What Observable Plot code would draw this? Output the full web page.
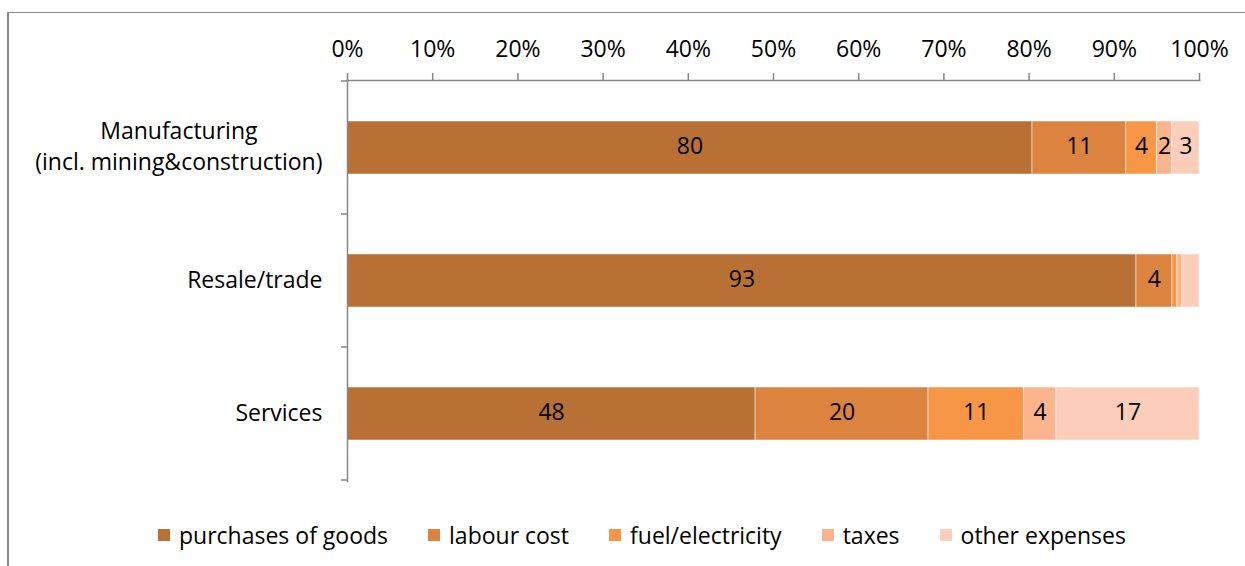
<!DOCTYPE html>
<html>
<head>
<meta charset="utf-8">
<script src="https://cdn.jsdelivr.net/npm/d3@7"></script>
<script src="https://cdn.jsdelivr.net/npm/@observablehq/plot@0.6"></script>
<style>
  html, body { margin: 0; padding: 0; background: #fff; width: 1245px; height: 566px; overflow: hidden; }
  #frame { position: absolute; left: 7px; top: 12px; width: 1300px; height: 700px; border-left: 2px solid #8a8a8a; border-top: 1px solid #8a8a8a; pointer-events: none; }
  #chart { position: absolute; left: 0; top: 0; }
  #legend { position: absolute; top: 522px; left: 158px; display: flex; align-items: center; font-family: "Open Sans", sans-serif; font-size: 23px; line-height: 26px; color: #000; white-space: nowrap; }
  .item { display: flex; align-items: center; margin-right: 40px; }
  .sw { width: 12px; height: 12px; margin-right: 9px; }
</style>
</head>
<body>
<div id="frame"></div>
<div id="chart"></div>
<div id="legend"></div>
<script>
const categories = ["Manufacturing", "Resale/trade", "Services"];
const categoryLabels = ["Manufacturing\n(incl. mining&construction)", "Resale/trade", "Services"];
const series = ["purchases of goods", "labour cost", "fuel/electricity", "taxes", "other expenses"];
const colors = ["#B97034", "#DC8340", "#F79646", "#FAB58F", "#FCCDB9"];

const purchases = [80.4, 92.6, 47.9];
const labour    = [11.0, 4.2, 20.3];
const fuel      = [3.6, 0.6, 11.2];
const taxes     = [1.8, 0.6, 3.8];
const other     = [3.2, 2.0, 16.8];

const tickValues = [0, 10, 20, 30, 40, 50, 60, 70, 80, 90, 100];
// data labels not shown in the original
const hiddenLabels = [["Resale/trade", "fuel/electricity"], ["Resale/trade", "taxes"], ["Resale/trade", "other expenses"]];

const seriesValues = [purchases, labour, fuel, taxes, other];
const rows = [];
categories.forEach((c, i) => {
  series.forEach((s, j) => {
    const v = seriesValues[j][i];
    const hidden = hiddenLabels.some(([hc, hs]) => hc === c && hs === s);
    rows.push({category: c, series: s, value: v, label: hidden ? "" : String(Math.round(v))});
  });
});
const labelOf = new Map(categories.map((c, i) => [c, categoryLabels[i]]));

const axisGray = "#868686";
const FS = 23;

function boundaryTicks() {
  return (index, scales, values, dimensions) => {
    const y = scales.y;
    const step = y.step ? y.step() : (dimensions.height - dimensions.marginTop - dimensions.marginBottom) / categories.length;
    const bw = y.bandwidth ? y.bandwidth() : step * 0.4;
    const x0 = scales.x(0);
    const g = d3.create("svg:g");
    const ys = categories.map(c => y(c) - (step - bw) / 2);
    ys.push(y(categories[categories.length - 1]) + bw + (step - bw) / 2);
    for (const yy of ys) {
      g.append("line").attr("x1", x0 - 6).attr("x2", x0).attr("y1", yy).attr("y2", yy)
        .attr("stroke", axisGray).attr("stroke-width", 1.5);
    }
    return g.node();
  };
}

const plot = Plot.plot({
  width: 1245,
  height: 500,
  marginTop: 80,
  marginBottom: 19,
  marginLeft: 347,
  marginRight: 46,
  style: {fontFamily: "'Open Sans', sans-serif", fontSize: FS + "px", color: "#000", background: "transparent", overflow: "visible"},
  x: {domain: [0, 100], label: null},
  y: {domain: categories, paddingInner: 0.6, paddingOuter: 0.3, axis: null},
  color: {domain: series, range: colors},
  marks: [
    Plot.barX(rows, Plot.stackX({x: "value", y: "category", fill: "series", stroke: "white", strokeWidth: 1, strokeOpacity: 0.5})),
    Plot.text(rows, Plot.stackX({x: "value", y: "category", text: "label", fill: "#000", fontSize: FS, dy: -1})),
    Plot.axisX({anchor: "top", ticks: tickValues, tickSize: 8, tickFormat: () => "", stroke: axisGray, strokeWidth: 1.5, label: null}),
    Plot.axisX({anchor: "top", ticks: tickValues, tickSize: 0, tickPadding: 24, tickFormat: d => d + "%", fill: "#000", fontSize: FS, label: null}),
    Plot.frame({anchor: "top", stroke: axisGray, strokeWidth: 1.5}),
    Plot.frame({anchor: "left", stroke: axisGray, strokeWidth: 1.5}),
    Plot.text(categories, {x: 0, y: d => d, text: d => labelOf.get(d), textAnchor: "end", dx: -25, dy: -3, fill: "#000", fontSize: FS, lineHeight: 1.35, className: "catlabel"}),
    Plot.ruleX([0], {render: boundaryTicks()})
  ]
});
document.getElementById("chart").appendChild(plot);

// Excel centres the lines of a wrapped category label within its right-aligned block
plot.querySelectorAll(".catlabel text").forEach(t => {
  const spans = t.querySelectorAll("tspan");
  if (spans.length < 2) return;
  const widths = Array.from(spans, s => s.getComputedTextLength());
  const maxW = Math.max(...widths);
  t.setAttribute("text-anchor", "middle");
  spans.forEach(s => s.setAttribute("x", -maxW / 2));
});

const legend = document.getElementById("legend");
series.forEach((s, i) => {
  const item = document.createElement("div");
  item.className = "item";
  const sw = document.createElement("div");
  sw.className = "sw";
  sw.style.background = plot.scale("color").apply(s);
  const t = document.createElement("span");
  t.textContent = s;
  item.appendChild(sw); item.appendChild(t);
  legend.appendChild(item);
});
</script>
</body>
</html>
